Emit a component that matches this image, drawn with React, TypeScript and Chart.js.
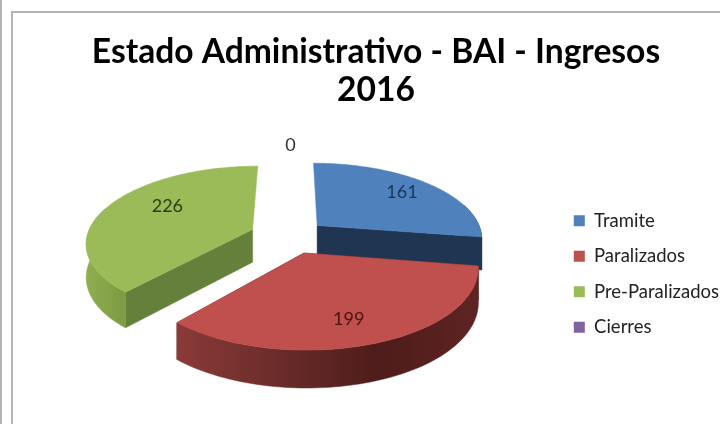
import React, { useEffect, useRef } from "react";
import { Chart, registerables } from "chart.js";

Chart.register(...registerables);

const titleLines = ["Estado Administrativo - BAI - Ingresos", "2016"];
const categories = ["Tramite", "Paralizados", "Pre-Paralizados", "Cierres"];
const values = [161, 199, 226, 0];

const topColors = ["#4F81BD", "#C0504D", "#9BBB59", "#8064A2"];
const cutColors = ["#1F3552", "#5a2220", "#64803A", "#4d3b62"];
const rimStops = [
  ["#1F3552", "#1F3552"],
  ["#8A3A38", "#6B2C2A", "#4E1C1A", "#5E2422"],
  ["#8FAE4E", "#7C9A42"],
  ["#4d3b62", "#4d3b62"],
];
const labelColors = ["#17365D", "#4A1512", "#24400F", "#333333"];
const explode = [29, 31, 33, 0];
const labelRadius = [0.76, 0.75, 0.655, 1.5];
const labelTurn = [0, 0.05, 0.18, 0];
const drawOrder = [3, 2, 0, 1];

const view = {
  shiftX: 0.5,
  shiftY: -38,
  xScale: 1.24,
  yScale: 0.565,
  persp: 0.16,
  depth: 0.247,
  depthGrow: 0.03,
};

const pie3d = {
  id: "pie3d",
  beforeDatasetDraw(chart: any) {
    const ctx = chart.ctx;
    const arcs = chart.getDatasetMeta(0).data;
    const project = (arc: any, X: number, Y: number, sink = 0) => {
      const R = arc.outerRadius;
      const d = 1 - view.persp * Y;
      return {
        x: arc.x + view.shiftX + (R * view.xScale * X) / d,
        y:
          arc.y + view.shiftY + (R * view.yScale * Y) / d +
          sink * R * (view.depth + view.depthGrow * Y),
      };
    };
    const poly = (pts: any[], fill: any) => {
      ctx.beginPath();
      pts.forEach((p, i) => (i ? ctx.lineTo(p.x, p.y) : ctx.moveTo(p.x, p.y)));
      ctx.closePath();
      ctx.fillStyle = fill;
      ctx.fill();
      ctx.strokeStyle = fill;
      ctx.lineWidth = 0.5;
      ctx.stroke();
    };
    drawOrder.forEach((i) => {
      const arc = arcs[i];
      const sweep = arc.endAngle - arc.startAngle;
      if (sweep <= 0) return;
      const e = (arc.options.offset || 0) / arc.outerRadius;
      const mid = (arc.startAngle + arc.endAngle) / 2;
      const ox = Math.cos(mid) * e;
      const oy = Math.sin(mid) * e;
      const n = 72;
      const topRim: any[] = [];
      const wallTop: any[] = [];
      const wallLow: any[] = [];
      for (let k = 0; k <= n; k++) {
        const t = arc.startAngle + (sweep * k) / n;
        const X = ox + Math.cos(t);
        const Y = oy + Math.sin(t);
        const p = project(arc, X, Y);
        topRim.push(p);
        if (Math.sin(t) > -0.3) {
          wallTop.push(p);
          wallLow.push(project(arc, X, Y, 1));
        }
      }
      const apex = project(arc, ox, oy);
      const apexLow = project(arc, ox, oy, 1);
      [arc.startAngle, arc.endAngle].forEach((t: number) => {
        if (Math.sin(t) > 0.05) {
          const X = ox + Math.cos(t);
          const Y = oy + Math.sin(t);
          poly([apex, project(arc, X, Y), project(arc, X, Y, 1), apexLow], cutColors[i]);
        }
      });
      if (wallTop.length > 1) {
        const xs = wallTop.map((p) => p.x);
        const g = ctx.createLinearGradient(Math.min(...xs), 0, Math.max(...xs), 0);
        rimStops[i].forEach((c, k, a) => g.addColorStop(k / (a.length - 1), c));
        poly([...wallTop, ...wallLow.slice().reverse()], g);
      }
      poly([apex, ...topRim], topColors[i]);
    });
    ctx.font = "18px Lato";
    ctx.textAlign = "center";
    ctx.textBaseline = "middle";
    arcs.forEach((arc: any, i: number) => {
      const e = (arc.options.offset || 0) / arc.outerRadius;
      const mid = (arc.startAngle + arc.endAngle) / 2;
      const r = labelRadius[i];
      const a = mid + labelTurn[i];
      const p = project(
        arc,
        Math.cos(mid) * e + Math.cos(a) * r,
        Math.sin(mid) * e + Math.sin(a) * r
      );
      ctx.fillStyle = labelColors[i];
      ctx.fillText(String(values[i]), p.x, p.y);
    });
    return false;
  },
};

export default function App() {
  const ref = useRef<HTMLCanvasElement>(null);
  useEffect(() => {
    const chart = new Chart(ref.current as HTMLCanvasElement, {
      type: "pie",
      data: {
        labels: categories,
        datasets: [
          {
            data: values,
            backgroundColor: topColors,
            borderWidth: 0,
            offset: explode,
          },
        ],
      },
      options: {
        responsive: false,
        animation: false,
        layout: { padding: { left: 23, right: -9 } },
        plugins: {
          tooltip: { enabled: false },
          title: {
            display: true,
            text: titleLines,
            color: "#000000",
            font: { family: "Lato", size: 33.6, weight: "bold", lineHeight: 1.13 },
            padding: { top: 33, bottom: 15 },
          },
          legend: {
            position: "right",
            fullSize: false,
            labels: {
              boxWidth: 11,
              boxHeight: 11,
              padding: 17,
              color: "#222222",
              font: { family: "Lato", size: 18.5 },
            },
          },
        },
      },
      plugins: [pie3d],
    } as any);
    return () => chart.destroy();
  }, []);
  const line = (s: React.CSSProperties) => (
    <div style={{ position: "absolute", background: "#B4B4B4", ...s }} />
  );
  return (
    <div style={{ position: "fixed", left: 0, top: 0, width: 720, height: 424, overflow: "hidden", background: "#fff" }}>
      {line({ left: 0, top: 0, width: 2, height: 424 })}
      {line({ left: 11, top: 11, width: 2, height: 413 })}
      {line({ left: 11, top: 11, width: 709, height: 2 })}
      <canvas ref={ref} width={720} height={424} style={{ position: "absolute", left: 0, top: 0, display: "block" }} />
    </div>
  );
}
